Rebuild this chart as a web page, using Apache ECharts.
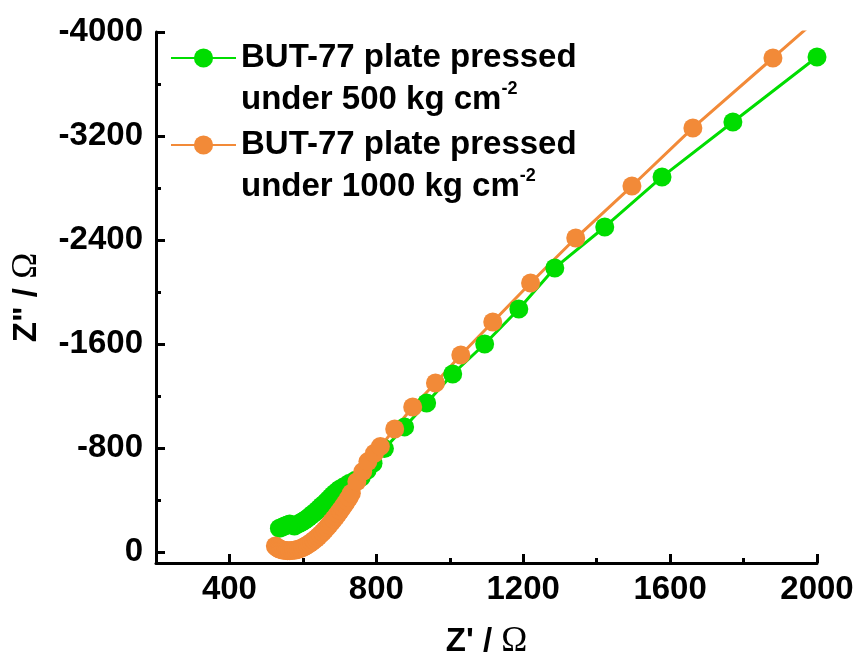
<!DOCTYPE html>
<html>
<head>
<meta charset="utf-8">
<script src="https://cdn.jsdelivr.net/npm/echarts@6/dist/echarts.min.js"></script>
<style>
    html, body {margin: 0; padding: 0; background: #fff;}
    #chartmain {width: 861px; height: 655px;}
</style>
</head>
<body>
<div id="chartmain"></div>
<script>
// 数据 Z' / Z''  (低频段点很密)
var green_x = [536, 543, 550, 557, 564, 570, 577, 584, 591, 597, 603, 609, 615, 621, 627, 633, 639, 645, 651, 658, 664, 670, 676, 682, 688, 694, 700, 709, 718, 727, 743, 759, 775, 791, 822, 877, 937, 1008, 1095, 1188, 1286, 1422, 1578, 1771, 2000]
var green_y = [-182, -190, -200, -208, -215, -208, -200, -210, -221, -230, -240, -251, -264, -278, -292, -306, -321, -336, -353, -370, -387, -404, -421, -438, -453, -468, -482, -497, -512, -528, -551, -574, -628, -682, -795, -962, -1146, -1369, -1600, -1869, -2185, -2500, -2885, -3308, -3808]
var orange_x = [525, 528, 531, 535, 539, 543, 548, 553, 558, 564, 570, 576, 582, 588, 594, 600, 606, 612, 618, 624, 630, 636, 642, 648, 654, 660, 666, 672, 678, 684, 690, 696, 702, 708, 714, 720, 726, 732, 747, 763, 777, 795, 811, 850, 899, 961, 1030, 1117, 1220, 1343, 1496, 1662, 1880, 2130]
var orange_y = [-46, -38, -31, -25, -20, -16, -13, -11, -10, -10, -11, -13, -16, -21, -27, -34, -43, -53, -64, -76, -90, -104, -119, -135, -152, -170, -189, -209, -230, -251, -273, -296, -319, -343, -368, -393, -419, -451, -541, -618, -695, -759, -812, -946, -1115, -1300, -1515, -1769, -2069, -2415, -2815, -3262, -3800, -4420]
var x_major = [400, 800, 1200, 1600, 2000]
var x_minor = [600, 1000, 1400, 1800]
var y_major = [-4000, -3200, -2400, -1600, -800, 0]
var y_minor = [-3600, -2800, -2000, -1200, -400]

var green = '#00dd00', orange = '#f28a38'
var font = "'Liberation Sans', Arial, sans-serif"

function pairs(xs, ys) {
    var out = []
    for (var i = 0; i < xs.length; i++) {
        out.push([xs[i], ys[i]])
    }
    return out
}

var legendRich = {
    a: {fontSize: 33, fontWeight: 'bold', fontFamily: font, color: '#000', lineHeight: 42},
    s: {fontSize: 18, fontWeight: 'bold', fontFamily: font, color: '#000', padding: [0, 0, 22, 0], lineHeight: 42}
}
function legendOpt(name, top, label) {
    return {
        data: [name], left: 170, top: top, orient: 'vertical',
        itemWidth: 65, itemHeight: 24, itemGap: 0, padding: 0,
        formatter: function () { return '{a| }\n{a|BUT-77 plate pressed}\n{a|under ' + label + ' kg cm}{s|-2}' },
        textStyle: {rich: legendRich, lineHeight: 42}
    }
}

var axisName = {
    a: {fontSize: 33, fontWeight: 'bold', fontFamily: font, color: '#000'},
    o: {fontSize: 35, fontFamily: "'Liberation Serif', 'Times New Roman', serif", color: '#000'}
}
var labelStyle = {fontSize: 33, fontWeight: 'bold', fontFamily: font, color: '#000'}
var lineBlack = {color: '#000', width: 3}

var myChart = echarts.init(document.getElementById('chartmain'))
myChart.setOption({
    animation: false,
    backgroundColor: '#fff',
    grid: {left: 156, right: 44, top: 32, bottom: 92, outerBoundsMode: 'none', containLabel: false},
    legend: [legendOpt('500', -5, '500'), legendOpt('1000', 82, '1000')],
    xAxis: [{
        type: 'value', min: 200, max: 2000, position: 'bottom',
        name: "{a|Z' / }{o|Ω}", nameLocation: 'middle', nameGap: 61,
        nameTextStyle: {rich: axisName},
        axisLine: {onZero: false, lineStyle: lineBlack},
        axisTick: {inside: true, length: 9, lineStyle: lineBlack, customValues: x_major},
        axisLabel: Object.assign({margin: 10, customValues: x_major, formatter: function (v) { return String(v) }}, labelStyle),
        splitLine: {show: false}
    }, {
        type: 'value', min: 200, max: 2000, position: 'bottom',
        axisLine: {show: false, onZero: false},
        axisTick: {inside: true, length: 5, lineStyle: lineBlack, customValues: x_minor},
        axisLabel: {show: false},
        splitLine: {show: false}
    }],
    yAxis: [{
        type: 'value', min: -4000, max: 85, inverse: true, position: 'left',
        name: '{a|Z" / }{o|Ω}', nameLocation: 'middle', nameGap: 112, nameRotate: 90,
        nameTextStyle: {rich: axisName},
        axisLine: {onZero: false, lineStyle: lineBlack},
        axisTick: {inside: true, length: 9, lineStyle: lineBlack, customValues: y_major},
        axisLabel: Object.assign({margin: 13, customValues: y_major, formatter: function (v) { return String(v) }}, labelStyle),
        splitLine: {show: false}
    }, {
        type: 'value', min: -4000, max: 85, inverse: true, position: 'left',
        axisLine: {show: false, onZero: false},
        axisTick: {inside: true, length: 5, lineStyle: lineBlack, customValues: y_minor},
        axisLabel: {show: false},
        splitLine: {show: false}
    }],
    series: [{
        name: '500', type: 'line', data: pairs(green_x, green_y),
        symbol: 'circle', symbolSize: 19, clip: true,
        lineStyle: {color: green, width: 3},
        itemStyle: {color: green, borderWidth: 0}
    }, {
        name: '1000', type: 'line', data: pairs(orange_x, orange_y),
        symbol: 'circle', symbolSize: 19, clip: true,
        lineStyle: {color: orange, width: 3},
        itemStyle: {color: orange, borderWidth: 0}
    }]
});
</script>
</body>
</html>
